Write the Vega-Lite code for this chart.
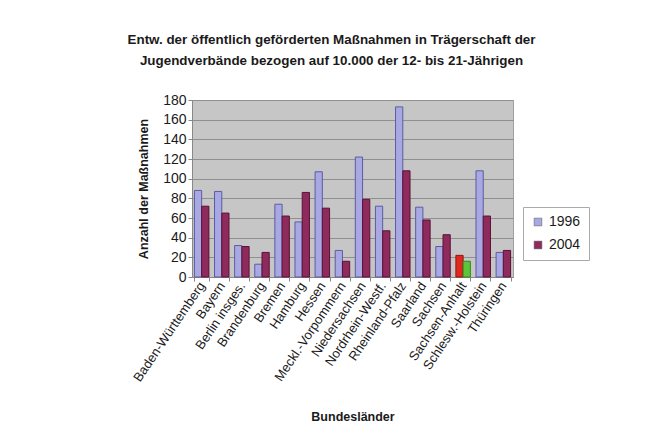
{
  "$schema": "https://vega.github.io/schema/vega-lite/v6.json",
  "width": 321,
  "height": 177,
  "autosize": "none",
  "padding": {"left": 192, "top": 100, "right": 146, "bottom": 151},
  "background": "white",
  "title": {
    "text": ["Entw. der öffentlich geförderten Maßnahmen in Trägerschaft der", "Jugendverbände bezogen auf 10.000 der 12- bis 21-Jährigen"],
    "font": "Liberation Sans",
    "fontSize": 13.4,
    "fontWeight": "bold",
    "color": "#1a1a1a",
    "lineHeight": 21,
    "anchor": "middle",
    "dx": -21,
    "offset": 26
  },
  "data": {
    "values": [
      {"Land": "Baden-Württemberg", "Jahr": "1996", "Wert": 88},
      {"Land": "Baden-Württemberg", "Jahr": "2004", "Wert": 72},
      {"Land": "Bayern", "Jahr": "1996", "Wert": 87},
      {"Land": "Bayern", "Jahr": "2004", "Wert": 65},
      {"Land": "Berlin insges.", "Jahr": "1996", "Wert": 32},
      {"Land": "Berlin insges.", "Jahr": "2004", "Wert": 31},
      {"Land": "Brandenburg", "Jahr": "1996", "Wert": 13},
      {"Land": "Brandenburg", "Jahr": "2004", "Wert": 25},
      {"Land": "Bremen", "Jahr": "1996", "Wert": 74},
      {"Land": "Bremen", "Jahr": "2004", "Wert": 62},
      {"Land": "Hamburg", "Jahr": "1996", "Wert": 56},
      {"Land": "Hamburg", "Jahr": "2004", "Wert": 86},
      {"Land": "Hessen", "Jahr": "1996", "Wert": 107},
      {"Land": "Hessen", "Jahr": "2004", "Wert": 70},
      {"Land": "Meckl.-Vorpommern", "Jahr": "1996", "Wert": 27},
      {"Land": "Meckl.-Vorpommern", "Jahr": "2004", "Wert": 16},
      {"Land": "Niedersachsen", "Jahr": "1996", "Wert": 122},
      {"Land": "Niedersachsen", "Jahr": "2004", "Wert": 79},
      {"Land": "Nordrhein-Westf.", "Jahr": "1996", "Wert": 72},
      {"Land": "Nordrhein-Westf.", "Jahr": "2004", "Wert": 47},
      {"Land": "Rheinland-Pfalz", "Jahr": "1996", "Wert": 173},
      {"Land": "Rheinland-Pfalz", "Jahr": "2004", "Wert": 108},
      {"Land": "Saarland", "Jahr": "1996", "Wert": 71},
      {"Land": "Saarland", "Jahr": "2004", "Wert": 58},
      {"Land": "Sachsen", "Jahr": "1996", "Wert": 31},
      {"Land": "Sachsen", "Jahr": "2004", "Wert": 43},
      {"Land": "Sachsen-Anhalt", "Jahr": "1996", "Wert": 22},
      {"Land": "Sachsen-Anhalt", "Jahr": "2004", "Wert": 16},
      {"Land": "Schlesw.-Holstein", "Jahr": "1996", "Wert": 108},
      {"Land": "Schlesw.-Holstein", "Jahr": "2004", "Wert": 62},
      {"Land": "Thüringen", "Jahr": "1996", "Wert": 25},
      {"Land": "Thüringen", "Jahr": "2004", "Wert": 27}
    ]
  },
  "mark": {"type": "bar", "strokeWidth": 1},
  "encoding": {
    "x": {
      "field": "Land",
      "type": "nominal",
      "sort": null,
      "scale": {"paddingInner": 0.28, "paddingOuter": 0.12},
      "axis": {
        "title": "Bundesländer",
        "titleFont": "Liberation Sans",
        "titleFontSize": 12.5,
        "titleFontWeight": "bold",
        "titleColor": "#1a1a1a",
        "titlePadding": 27,
        "labelFont": "Liberation Sans",
        "labelFontSize": 13,
        "labelColor": "#1a1a1a",
        "labelAngle": -56,
        "labelPadding": 2,
        "tickBand": "extent",
        "tickColor": "#888888",
        "tickSize": 4,
        "domainColor": "#888888"
      }
    },
    "xOffset": {"field": "Jahr", "type": "nominal", "scale": {"paddingInner": 0}},
    "y": {
      "field": "Wert",
      "type": "quantitative",
      "scale": {"domain": [0, 180]},
      "axis": {
        "title": "Anzahl der Maßnahmen",
        "titleFont": "Liberation Sans",
        "titleFontSize": 12.5,
        "titleFontWeight": "bold",
        "titleColor": "#1a1a1a",
        "titlePadding": 12,
        "labelFont": "Liberation Sans",
        "labelFontSize": 14,
        "labelColor": "#1a1a1a",
        "values": [0, 20, 40, 60, 80, 100, 120, 140, 160, 180],
        "tickColor": "#888888",
        "tickSize": 4,
        "domainColor": "#888888",
        "gridColor": "#8f8f8f",
        "gridOpacity": 1
      }
    },
    "color": {
      "condition": [
        {"test": "datum.Land === 'Sachsen-Anhalt' && datum.Jahr === '1996'", "value": "#e0281e"},
        {"test": "datum.Land === 'Sachsen-Anhalt' && datum.Jahr === '2004'", "value": "#5ec43a"}
      ],
      "field": "Jahr",
      "type": "nominal",
      "scale": {"domain": ["1996", "2004"], "range": ["#a8a8e2", "#8e2a5c"]},
      "legend": {
        "title": null,
        "orient": "none",
        "legendX": 331,
        "legendY": 107,
        "symbolType": "square",
        "symbolSize": 60,
        "symbolStrokeColor": "#555555",
        "symbolStrokeWidth": 0.5,
        "labelFont": "Liberation Sans",
        "labelFontSize": 14,
        "labelColor": "#1a1a1a",
        "rowPadding": 9,
        "padding": 8,
        "strokeColor": "#aaaaaa",
        "fillColor": "white"
      }
    },
    "stroke": {
      "condition": [
        {"test": "datum.Land === 'Sachsen-Anhalt' && datum.Jahr === '1996'", "value": "#901510"},
        {"test": "datum.Land === 'Sachsen-Anhalt' && datum.Jahr === '2004'", "value": "#2f8a1e"},
        {"test": "datum.Jahr === '1996'", "value": "#5c5ca0"}
      ],
      "value": "#5a1236"
    }
  },
  "config": {
    "view": {"fill": "#c6c6c6", "stroke": "#a0a0a0"},
    "font": "Liberation Sans"
  }
}
